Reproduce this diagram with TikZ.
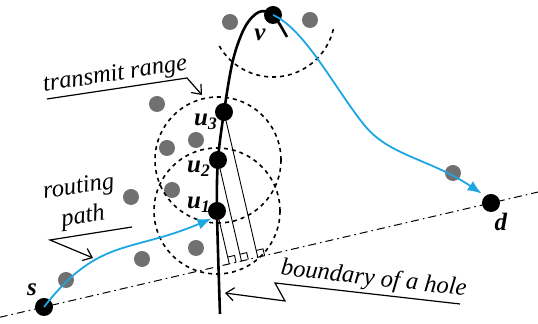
\documentclass[tikz,border=0pt]{standalone}
\usepackage{fontspec}
\setmainfont{Liberation Serif}
\usetikzlibrary{calc,arrows.meta}
\definecolor{routeblue}{RGB}{28,166,228}

\begin{document}
\begin{tikzpicture}[
        x=0.5pt, y=0.5pt,
        every node/.style={font=\fontsize{12.3}{13.8}\selectfont\itshape},
        keynode/.style={circle, fill=black, inner sep=0pt, minimum size=9pt},
        othernode/.style={circle, fill=black!56, inner sep=0pt, minimum size=8pt},
        nodelbl/.style={font=\fontsize{12.5}{13}\selectfont\bfseries\itshape, inner sep=0pt},
        rangecircle/.style={draw, line width=0.8pt, dash pattern=on 2pt off 2pt},
        holeline/.style={line width=1.3pt},
        perp/.style={line width=0.45pt},
        route/.style={draw=routeblue, line width=0.9pt, -{Latex[length=7pt,width=5.5pt]}},
        callout/.style={line width=0.6pt, -{Straight Barb[length=4pt,width=6.5pt]}}
    ]
    \useasboundingbox (0,0) rectangle (538,324);

    % sensors on the route and on the hole
    \node[keynode] (s) at (44,17) {};
    \node[keynode] (d) at (491,121) {};
    \node[keynode] (v) at (273,309) {};
    \node[keynode] (u1) at (217,113) {};
    \node[keynode] (u2) at (218,164) {};
    \node[keynode] (u3) at (224,212) {};

    % other sensors
    \node[othernode] (o1) at (230,302) {};
    \node[othernode] (o2) at (310,304) {};
    \node[othernode] (o3) at (157,220) {};
    \node[othernode] (o4) at (196,184) {};
    \node[othernode] (o5) at (167,176) {};
    \node[othernode] (o6) at (172,134) {};
    \node[othernode] (o7) at (131,127) {};
    \node[othernode] (o8) at (196,76) {};
    \node[othernode] (o9) at (142,65) {};
    \node[othernode] (o10) at (66,44) {};
    \node[othernode] (o11) at (453,151) {};

    \node[nodelbl] (slbl) at (32,34) {s};
    \node[nodelbl] (dlbl) at (501,102) {d};
    \node[nodelbl] (vlbl) at (260,289) {v};
    \node[nodelbl] (u1lbl) at (199,119) {u\textsubscript{1}};
    \node[nodelbl] (u2lbl) at (199,155) {u\textsubscript{2}};
    \node[nodelbl] (u3lbl) at (206,202) {u\textsubscript{3}};

    % transmit ranges
    \draw[rangecircle] (u1.center) circle[radius=63];
    \draw[rangecircle] (u2.center) circle[radius=63];
    \draw[rangecircle] (v.center) ++(210:62) arc[start angle=210, end angle=347, radius=62];

    % line s--d and the hole boundary
    \draw[line width=0.5pt, dash pattern=on 4pt off 2pt on 0.8pt off 2pt]
        ($(s)!-0.099!(d)$) -- ($(d)!-0.106!(s)$);
    \draw[holeline] plot[smooth, tension=0.55] coordinates {(220,10) (u1.center) (u2.center) (u3.center) (233,264) (245,297) (259,312) (v.center) (287,287)};

    \foreach \i in {1,2,3} {
        \coordinate (f\i) at ($(s)!(u\i)!(d)$);
        \draw[perp] (u\i.center) -- (f\i);
        \draw[perp, shift={(f\i)}, rotate=13.1] (3.5pt,0) -- (3.5pt,3.5pt) -- (0,3.5pt);
    }

    % routing path
    \draw[route] (s.center) to[out=52, in=203, looseness=1.2] (u1.234);
    \draw[route, shorten >=2pt] (v.center) .. controls (305,295) and (335,235) .. (365,198)
        .. controls (390,168) and (430,165) .. (d.130);

    % callouts
    \coordinate (tr1) at (47,225);
    \coordinate (tr2) at (187,246);
    \coordinate (tr3) at (202,229);
    \draw[callout] (tr1) -- (tr2) -- (tr3);
    \node[rotate=8.6, anchor=base] (trtext) at (116,243.5) {transmit range};

    \coordinate (rp1) at (132,97);
    \coordinate (rp2) at (50,84);
    \coordinate (rp3) at (93,66);
    \draw[callout] (rp1) -- (rp2) -- (rp3);
    \node[rotate=8.5, align=center, font=\fontsize{12.3}{15}\selectfont\itshape] (rptext) at (81,121) {routing\\path};

    \coordinate (bh1) at (460,20);
    \coordinate (bh2) at (275,41);
    \coordinate (bh3) at (285,23);
    \coordinate (bh4) at (225,31);
    \draw[callout] (bh1) -- (bh2) -- (bh3) -- (bh4);
    \node[rotate=-6.5, anchor=base] (bhtext) at (373,38.7) {boundary of a hole};
\end{tikzpicture}
\end{document}
